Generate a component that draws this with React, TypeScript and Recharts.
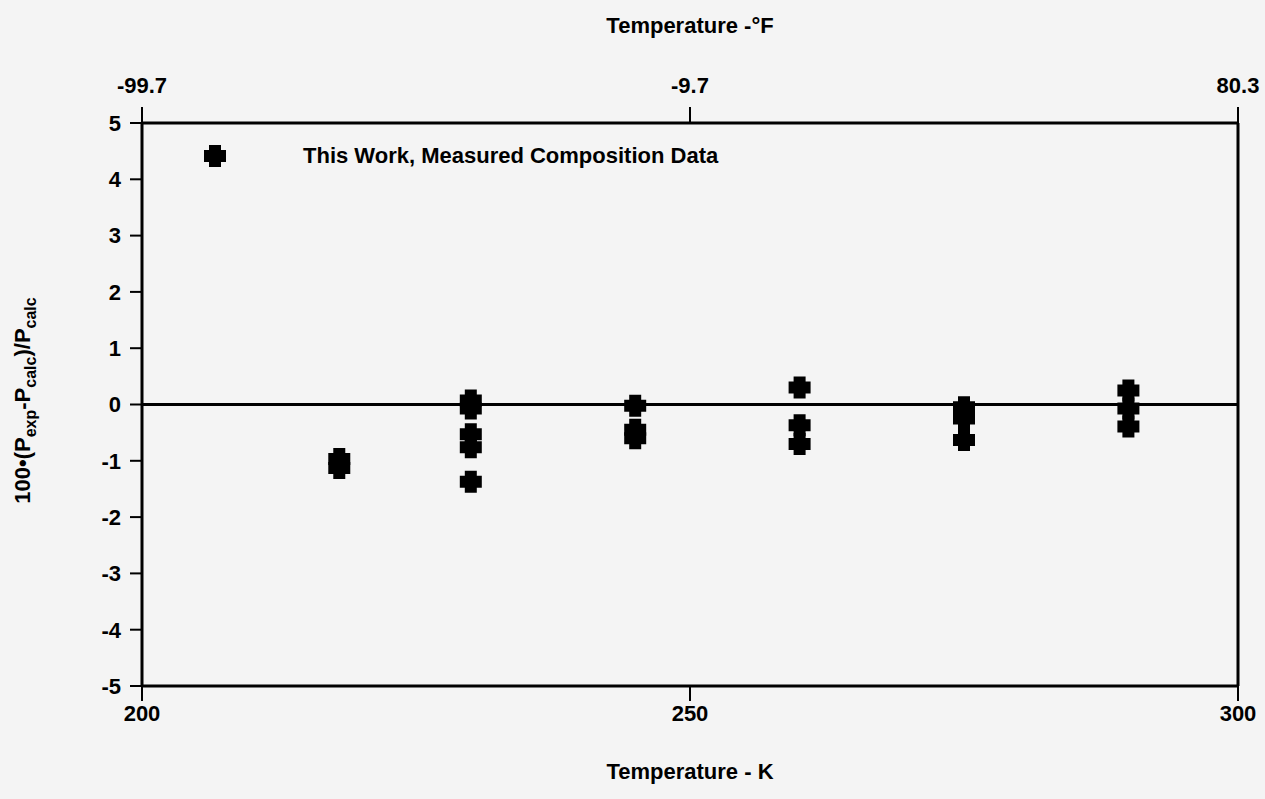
import {
  Label,
  ReferenceLine,
  Scatter,
  ScatterChart,
  XAxis,
  YAxis,
} from "recharts";

const FONDO = "#f4f4f4";
const TINTA = "#000000";
const FUENTE = "'Liberation Sans', Arial, Helvetica, sans-serif";

// Temperaturas de cada grupo de mediciones (K)
const TEMPS_K = [218, 230, 245, 260, 275, 290];
// Desviaciones 100·(Pexp-Pcalc)/Pcalc leídas por grupo
const DESV_218 = [-0.97, -1.13];
const DESV_230 = [0.07, -0.07, -0.53, -0.76, -1.37];
const DESV_245 = [-0.02, -0.45, -0.6];
const DESV_260 = [0.3, -0.37, -0.7];
const DESV_275 = [-0.05, -0.15, -0.25, -0.63];
const DESV_290 = [0.25, -0.07, -0.39];

const TICKS_K = [200, 250, 300];
const TICKS_Y = [-5, -4, -3, -2, -1, 0, 1, 2, 3, 4, 5];

const grupos = [DESV_218, DESV_230, DESV_245, DESV_260, DESV_275, DESV_290];
const puntos = grupos.flatMap((desv, i) =>
  desv.map((v) => ({ t: TEMPS_K[i], v }))
);

// K -> °F para el eje superior
const aFahrenheit = (k: number) => (((k - 273.15) * 9) / 5 + 32).toFixed(1);

function Cruz({ cx, cy }: { cx?: number; cy?: number }) {
  if (cx == null || cy == null) return <g />;
  const a = 6;
  const L = 11;
  const d = `M${cx - a},${cy - L}H${cx + a}V${cy - a}H${cx + L}V${cy + a}H${cx + a}V${cy + L}H${cx - a}V${cy + a}H${cx - L}V${cy - a}H${cx - a}Z`;
  return <path d={d} fill={TINTA} />;
}

// el eje superior (°F) necesita una serie propia para dibujarse
const Nada = () => <g />;

function EtiquetaY(props: { viewBox?: { x: number; y: number; width: number; height: number } }) {
  const vb = props.viewBox;
  if (!vb) return null;
  const x = vb.x - 52;
  const y = vb.y + vb.height / 2 - 4;
  return (
    <text
      transform={`translate(${x},${y}) rotate(-90)`}
      textAnchor="middle"
      fontFamily={FUENTE}
      fontWeight={700}
      fontSize={22}
      fill={TINTA}
    >
      100•(P
      <tspan fontSize={16} dy={6}>exp</tspan>
      <tspan dy={-6}>-P</tspan>
      <tspan fontSize={16} dy={6}>calc</tspan>
      <tspan dy={-6}>)/P</tspan>
      <tspan fontSize={16} dy={6}>calc</tspan>
    </text>
  );
}

const estiloTick = { fontSize: 22, fontWeight: 700, fill: TINTA, fontFamily: FUENTE };
const ejeLinea = { stroke: TINTA, strokeWidth: 3 };
const tickLinea = { stroke: TINTA, strokeWidth: 2 };

export default function App() {
  return (
    <div
      style={{
        position: "absolute",
        left: 0,
        top: 0,
        width: 1265,
        height: 799,
        background: FONDO,
      }}
    >
      <ScatterChart
        width={1265}
        height={799}
        margin={{ top: 63, right: 27, bottom: 53, left: 82 }}
      >
        <XAxis
          xAxisId="k"
          dataKey="t"
          type="number"
          domain={[200, 300]}
          ticks={TICKS_K}
          tick={estiloTick}
          axisLine={ejeLinea}
          tickLine={tickLinea}
          tickSize={15}
          tickMargin={4}
          height={60}
        >
          <Label
            value="Temperature - K"
            position="bottom"
            offset={17}
            style={{ fontSize: 22, fontWeight: 700, fill: TINTA, fontFamily: FUENTE }}
          />
        </XAxis>
        <XAxis
          xAxisId="f"
          dataKey="t"
          orientation="top"
          type="number"
          domain={[200, 300]}
          ticks={TICKS_K}
          tickFormatter={aFahrenheit}
          tick={estiloTick}
          axisLine={ejeLinea}
          tickLine={tickLinea}
          tickSize={16}
          tickMargin={14}
          height={60}
        >
          <Label
            value="Temperature -°F"
            position="top"
            offset={30}
            style={{ fontSize: 22, fontWeight: 700, fill: TINTA, fontFamily: FUENTE }}
          />
        </XAxis>
        <YAxis
          dataKey="v"
          type="number"
          domain={[-5, 5]}
          ticks={TICKS_Y}
          tick={estiloTick}
          axisLine={ejeLinea}
          tickLine={tickLinea}
          tickSize={12}
          tickMargin={9}
          width={60}
        >
          <Label content={EtiquetaY} />
        </YAxis>
        <ReferenceLine xAxisId="k" y={0} stroke={TINTA} strokeWidth={3} />
        <ReferenceLine xAxisId="k" x={300} stroke={TINTA} strokeWidth={3} />
        <Scatter
          xAxisId="f"
          data={puntos}
          shape={<Nada />}
          legendType="none"
          isAnimationActive={false}
        />
        <Scatter
          xAxisId="k"
          data={puntos}
          shape={<Cruz />}
          isAnimationActive={false}
        />
      </ScatterChart>
      <div
        style={{
          position: "absolute",
          left: 204,
          top: 143,
          display: "flex",
          alignItems: "center",
          fontFamily: FUENTE,
          fontWeight: 700,
          fontSize: 22,
          color: TINTA,
        }}
      >
        <svg width={22} height={22} style={{ display: "block" }}>
          <Cruz cx={11} cy={11} />
        </svg>
        <span style={{ marginLeft: 77 }}>This Work, Measured Composition Data</span>
      </div>
    </div>
  );
}
